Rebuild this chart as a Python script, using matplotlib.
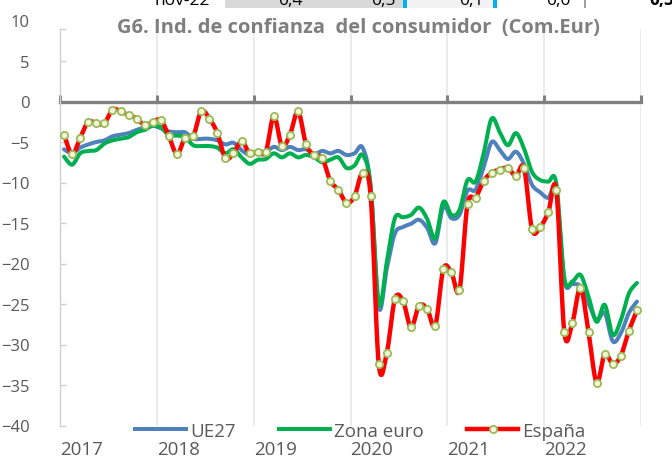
import numpy as np
import matplotlib
matplotlib.use("Agg")
import matplotlib.pyplot as plt
from matplotlib.patches import Rectangle
from matplotlib.lines import Line2D

plt.rcParams['font.family'] = ['Open Sans', 'DejaVu Sans']

# Consumer confidence indicator, monthly Jan-2017 .. Dec-2022
years = ['2017', '2018', '2019', '2020', '2021', '2022']

ue27 = [-5.9, -6.4, -5.7, -5.3, -5.0, -4.8, -4.3, -4.1, -3.9, -3.5, -3.2, -3.0,
        -3.3, -3.7, -3.8, -3.8, -4.6, -4.6, -4.6, -4.8, -5.3, -5.1, -6.0, -6.6,
        -6.2, -6.2, -5.6, -6.0, -5.6, -6.0, -5.9, -6.5, -6.1, -6.4, -6.1, -6.6,
        -6.4, -5.7, -10.5, -25.4, -20.6, -16.3, -15.5, -15.1, -14.6, -15.6, -17.5, -13.0,
        -14.4, -14.0, -11.0, -10.9, -8.1, -5.0, -6.0, -7.1, -6.2, -7.7, -10.3, -11.2,
        -11.9, -11.0, -22.1, -22.5, -22.8, -24.9, -27.0, -26.1, -29.6, -28.6, -26.1, -24.7]

zona_euro = [-6.8, -7.8, -6.4, -6.1, -6.0, -5.2, -4.8, -4.6, -4.4, -3.8, -3.5, -3.0,
             -3.2, -4.2, -4.2, -4.4, -5.4, -5.5, -5.5, -5.7, -6.4, -5.9, -6.9, -7.7,
             -7.2, -7.1, -6.4, -6.9, -6.4, -6.9, -6.6, -6.9, -7.5, -7.2, -6.9, -8.2,
             -7.9, -6.6, -10.5, -24.9, -19.8, -14.4, -14.3, -14.0, -13.1, -14.5, -16.9, -12.4,
             -14.0, -13.4, -9.7, -9.9, -6.4, -2.1, -3.8, -5.4, -3.9, -5.8, -8.7, -9.7,
             -9.9, -10.1, -21.8, -22.2, -21.4, -24.1, -27.2, -25.1, -28.8, -27.0, -23.7, -22.4]

espana = [-4.1, -6.5, -4.5, -2.5, -2.7, -2.7, -1.0, -1.2, -1.7, -2.1, -2.9, -2.5,
          -2.3, -4.3, -6.5, -4.5, -4.3, -1.2, -2.1, -3.9, -7.0, -6.4, -4.9, -6.4,
          -6.2, -6.2, -1.8, -5.5, -4.1, -1.2, -5.3, -6.6, -7.0, -9.8, -10.9, -12.5,
          -11.7, -8.8, -11.7, -32.4, -31.0, -24.4, -24.6, -27.9, -25.2, -25.6, -27.7, -20.7,
          -21.1, -23.3, -12.7, -11.9, -9.8, -8.8, -8.4, -8.2, -9.2, -8.2, -15.8, -15.5,
          -13.7, -10.9, -28.5, -27.3, -23.0, -28.5, -34.7, -31.2, -32.4, -31.4, -28.3, -25.8]

# header row of the table above the chart
header_label = 'nov-22'
header_values = ['0,4', '0,5', '0,1', '0,0', '0,5']

W, H = 672, 460


def smooth(x, y, n=14):
    """Cubic Bezier smoothing through every point (Catmull-Rom style)."""
    pts = np.column_stack([x, y]).astype(float)
    P = np.vstack([pts[0], pts, pts[-1]])
    t = np.linspace(0, 1, n, endpoint=False)[:, None]
    out = []
    for i in range(1, len(P) - 2):
        p0, p1, p2, p3 = P[i - 1], P[i], P[i + 1], P[i + 2]
        c1 = p1 + (p2 - p0) / 6.0
        c2 = p2 - (p3 - p1) / 6.0
        seg = ((1 - t) ** 3) * p1 + 3 * ((1 - t) ** 2) * t * c1 \
            + 3 * (1 - t) * t ** 2 * c2 + t ** 3 * p2
        out.append(seg)
    out.append(pts[-1:])
    s = np.vstack(out)
    return s[:, 0], s[:, 1]


fig = plt.figure(figsize=(W / 100, H / 100), dpi=100)
ax = fig.add_axes([60 / W, 1 - 426.5 / H, (641 - 60) / W, 405 / H])

n = len(espana)
x = np.arange(n) + 0.5

blue = '#4F81BD'
green = '#00B050'
red = '#FF0000'

bx, by = smooth(x, ue27)
gx, gy = smooth(x, zona_euro)
rx, ry = smooth(x, espana)
ax.plot(bx, by, color=blue, lw=2.9, solid_capstyle='round', zorder=3)
ax.plot(gx, gy, color=green, lw=2.9, solid_capstyle='round', zorder=4)
ax.plot(rx, ry, color=red, lw=3.2, solid_capstyle='round', zorder=5)
ax.plot(x, espana, ls='none', marker='o', ms=5.2, mfc='#F4F6DC',
        mec='#9BBB59', mew=1.3, zorder=6)

ax.set_xlim(0, n)
ax.set_ylim(-40, 10)
top_line = 9.0

# vertical year separators (stop under the title band)
for k in range(1, len(years) + 1):
    ax.vlines(12 * k, -40, top_line, color='#E9E9E9', lw=1.3, zorder=1)

# category axis crossing at zero
ax.spines['bottom'].set_position(('data', 0))
ax.spines['bottom'].set_color('#808080')
ax.spines['bottom'].set_linewidth(2.4)
ax.spines['bottom'].set_zorder(2)
ax.set_xticks(np.arange(0, n + 1, 12))
ax.tick_params(axis='x', direction='in', length=5, width=2.2, color='#808080',
               labelbottom=False)
for k, yr in enumerate(years):
    ax.text(12 * k, -0.058, yr, transform=ax.get_xaxis_transform(),
            ha='left', va='center', fontsize=13.5, color='#595959')

ax.spines['top'].set_visible(False)
ax.spines['right'].set_visible(False)
ax.spines['left'].set_color('#D0D0D0')
ax.spines['left'].set_linewidth(1.0)
ax.spines['left'].set_bounds(-40, top_line)
ax.set_yticks(np.arange(-40, 11, 5))
ax.set_yticks([top_line], minor=True)
ax.tick_params(axis='y', which='both', direction='in', length=4, width=1.0,
               color='#D0D0D0', labelsize=12, labelcolor='#595959', pad=22)
ax.yaxis.get_major_ticks()[-1].tick1line.set_visible(False)
for lab in ax.get_yticklabels():
    lab.set_horizontalalignment('right')

fig.text(358 / W, 1 - 28 / H, 'G6. Ind. de confianza  del consumidor  (Com.Eur)',
         ha='center', va='center', fontsize=14.5, fontweight='bold', color='#7F7F7F')

handles = [
    Line2D([], [], color=blue, lw=2.9),
    Line2D([], [], color=green, lw=2.9),
    Line2D([], [], color=red, lw=3.2, marker='o', ms=5.2, mfc='#F4F6DC',
           mec='#9BBB59', mew=1.3),
]
fig.legend(handles, ['UE27', 'Zona euro', 'España'], loc='center',
           bbox_to_anchor=(360 / W, 1 - 432 / H), ncol=3, frameon=False,
           fontsize=13.5, labelcolor='#595959', handlelength=2.75,
           handletextpad=0.2, columnspacing=2.3, numpoints=1)

# partial table row at the very top
fig.add_artist(Rectangle((225 / W, 1 - 8.5 / H), (403 - 225) / W, 8.5 / H,
                         transform=fig.transFigure, color='#D9D9D9', lw=0))
fig.add_artist(Rectangle((408 / W, 1 - 8.5 / H), (493 - 408) / W, 8.5 / H,
                         transform=fig.transFigure, color='#F2F2F2', lw=0))
for xc in (403, 493):
    fig.add_artist(Rectangle((xc / W, 1 - 8.5 / H), 4 / W, 8.5 / H,
                             transform=fig.transFigure, color='#00B0F0', lw=0))
fig.add_artist(Rectangle((584 / W, 1 - 8.5 / H), 1.5 / W, 8.5 / H,
                         transform=fig.transFigure, color='#A0A0A0', lw=0))
fig.text(182 / W, 1 - 5 / H, header_label, ha='center', va='baseline',
         fontsize=12.5, color='#000000')
for xc, v, bold in zip((290, 383, 471, 558, 662), header_values,
                       (False, False, False, False, True)):
    fig.text(xc / W, 1 - 5 / H, v, ha='center', va='baseline', fontsize=12.5,
             color='#000000', fontweight='bold' if bold else 'normal')

fig.savefig('out.png', dpi=100)
